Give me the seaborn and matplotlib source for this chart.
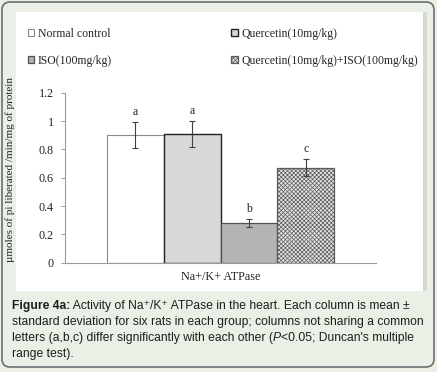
import matplotlib.pyplot as plt
import matplotlib.patches as mpatches
import pandas as pd
import seaborn as sns

# data
groups = ['Normal control', 'Quercetin(10mg/kg)', 'ISO(100mg/kg)',
          'Quercetin(10mg/kg)+ISO(100mg/kg)']
enzyme = ['Na+/K+ ATPase'] * 4
means = [0.90, 0.91, 0.28, 0.67]
sds = [0.09, 0.09, 0.03, 0.06]
letters = ['a', 'a', 'b', 'c']
yticks = [0, 0.2, 0.4, 0.6, 0.8, 1.0, 1.2]
ytick_labels = ['0', '0.2', '0.4', '0.6', '0.8', '1', '1.2']

bar_colors = ['#ffffff', '#d8d8d8', '#b4b4b4', '#e4e4e4']
bar_edges = ['#8a8a8a', '#202020', '#505050', '#5a5a5a']

sns.set_theme(style='white')
plt.rcParams['font.family'] = ['Liberation Serif', 'DejaVu Serif']
plt.rcParams['hatch.linewidth'] = 0.5

W, H = 437, 372
fig = plt.figure(figsize=(W / 100, H / 100), dpi=100, facecolor='#eaf0e6')

# page furniture (pixel coords, y from bottom), kept behind the axes
fig.patches.append(mpatches.FancyBboxPatch((2, 5), 432, 365, boxstyle='round,pad=0,rounding_size=8',
                                           transform=None, facecolor='none', edgecolor='#6e6e6e',
                                           lw=1.2, zorder=-3))
fig.patches.append(mpatches.Rectangle((423, 81), 4, 279, transform=None, facecolor='#d4d7d2',
                                      edgecolor='none', zorder=-2))
fig.patches.append(mpatches.Rectangle((16, 81), 407, 279, transform=None, facecolor='white',
                                      edgecolor='none', zorder=-1))

ax = fig.add_axes([65 / W, (H - 262.7) / H, 311 / W, 170 / H])
ax.set_facecolor('none')

df = pd.DataFrame({'enzyme': enzyme, 'group': groups, 'mean': means})
sns.barplot(data=df, x='enzyme', y='mean', hue='group', hue_order=groups,
            palette=bar_colors, width=0.73, errorbar=None, legend=False,
            linewidth=0.9, ax=ax)

bars = ax.patches[:4]
for b, ec in zip(bars, bar_edges):
    b.set_edgecolor(ec)
bars[0].set_linewidth(0.8)
bars[1].set_linewidth(1.0)
bars[3].set_hatch('xxxxxxxx')

for b, m, s, let in zip(bars, means, sds, letters):
    cx = b.get_x() + b.get_width() / 2
    ax.errorbar(cx, m, yerr=s, fmt='none', ecolor='#404040', elinewidth=0.8, capsize=2.5, capthick=0.8)
    ax.annotate(let, (cx, m + s), xytext=(0, 3), textcoords='offset points',
                ha='center', va='bottom', fontsize=8.5, color='#222222')

ax.set_xlim(-0.5, 0.5)
ax.set_ylim(0, 1.2)
ax.set_yticks(yticks)
ax.set_yticklabels(ytick_labels)
ax.set_xlabel('')
ax.set_ylabel('')
sns.despine(ax=ax)
for sp in ['left', 'bottom']:
    ax.spines[sp].set_color('#9a9a9a')
    ax.spines[sp].set_linewidth(0.8)
ax.tick_params(axis='y', direction='out', length=3, width=0.7, color='#9a9a9a',
               labelsize=8.7, pad=5, labelcolor='#222222', left=True)
ax.tick_params(axis='x', length=0, labelsize=8.7, pad=6, labelcolor='#222222')

fig.text(10 / W, (H - 170) / H, 'µmoles of pi liberated /min/mg of protein', rotation=90,
         ha='center', va='center', fontsize=8, color='#222222')

# legend: two columns, filled column-wise
order = [0, 2, 1, 3]
ax.legend([bars[i] for i in order], [groups[i] for i in order], ncol=2,
          loc='upper left', bbox_to_anchor=(28 / W, (H - 28) / H), bbox_transform=fig.transFigure,
          frameon=False, fontsize=8.5, handlelength=0.55, handleheight=0.55,
          handletextpad=0.3, labelspacing=1.25, columnspacing=10.1, borderpad=0, borderaxespad=0)

# caption
cap = dict(fontsize=8.7, color='#1e1e1e', family=['Liberation Sans', 'DejaVu Sans'])
t1 = fig.text(12 / W, (H - 306) / H, 'Figure 4a:', weight='bold', va='center', **cap)
ax.annotate(' Activity of Na\u207a/K\u207a ATPase in the heart. Each column is mean \u00b1',
            xy=(1, 0), xycoords=t1, va='bottom', ha='left', annotation_clip=False, **cap)
fig.text(12 / W, (H - 322) / H, 'standard deviation for six rats in each group; columns not sharing a common',
         va='center', **cap)
t3 = fig.text(12 / W, (H - 338) / H, 'letters (a,b,c) differ significantly with each other (', va='center', **cap)
t3b = ax.annotate('P', xy=(1, 0), xycoords=t3, va='bottom', ha='left', style='italic',
                  annotation_clip=False, **cap)
ax.annotate('<0.05; Duncan\'s multiple', xy=(1, 0), xycoords=t3b, va='bottom', ha='left',
            annotation_clip=False, **cap)
fig.text(12 / W, (H - 354) / H, 'range test).', va='center', **cap)

fig.savefig('out.png', dpi=100, facecolor=fig.get_facecolor())
